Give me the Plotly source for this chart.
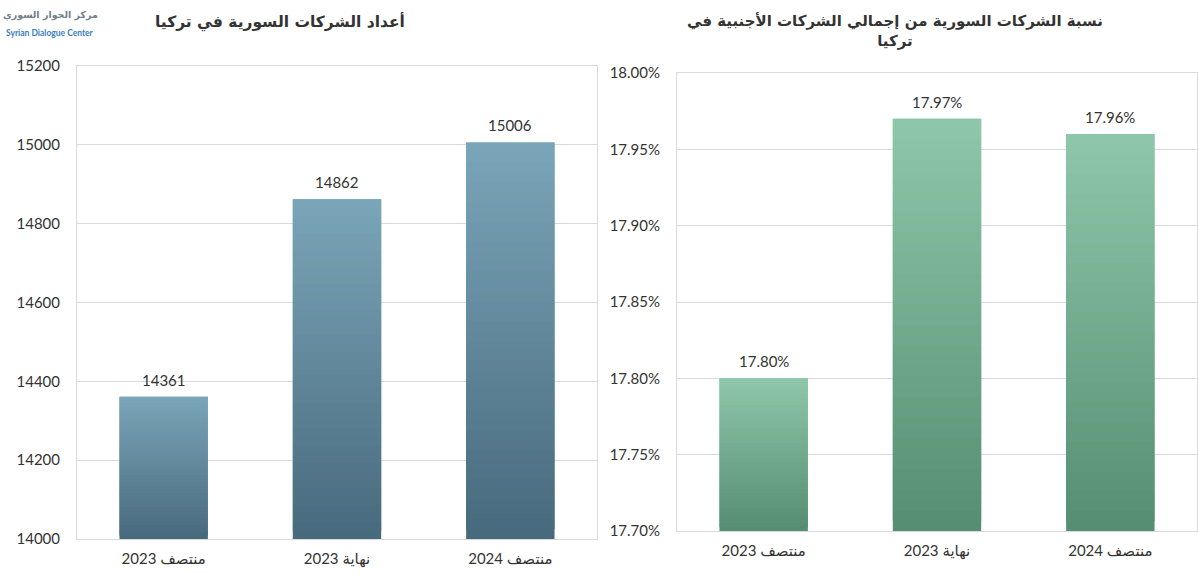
import plotly.graph_objects as go

categories = ["منتصف 2023", "نهاية 2023", "منتصف 2024"]
companies = [14361, 14862, 15006]
share_pct = [17.80, 17.97, 17.96]
left_ticks = [14000, 14200, 14400, 14600, 14800, 15000, 15200]
right_ticks = [17.70, 17.75, 17.80, 17.85, 17.90, 17.95, 18.00]

left_title = "أعداد الشركات السورية في تركيا"
right_title = "نسبة الشركات السورية من إجمالي الشركات الأجنبية في<br>تركيا"

FONT = "Lato, 'DejaVu Sans', sans-serif"
AR = "'DejaVu Sans', sans-serif"
TXT = "#333333"
GRID = "#d9d9d9"


def hex2rgb(h):
    h = h.lstrip("#")
    return tuple(int(h[i:i + 2], 16) for i in (0, 2, 4))


def mix(c1, c2, t):
    a, b = hex2rgb(c1), hex2rgb(c2)
    return "rgb(%d,%d,%d)" % tuple(round(a[i] + (b[i] - a[i]) * t) for i in range(3))


fig = go.Figure()


def gradient_bars(values, lo, top_c, bot_c, xa, ya, n=40):
    for k in range(n):
        t = k / (n - 1)
        bases = [lo + (v - lo) * k / n for v in values]
        heights = [(v - lo) / n * (2.0 if k < n - 1 else 1.0) for v in values]
        fig.add_trace(go.Bar(
            x=categories, y=heights, base=bases,
            marker=dict(color=mix(bot_c, top_c, t), line=dict(width=0)),
            xaxis=xa, yaxis=ya, showlegend=False, hoverinfo="skip",
        ))


gradient_bars(companies, left_ticks[0], "#7aa4b8", "#486a7d", "x", "y")
gradient_bars(share_pct, right_ticks[0], "#8ec6aa", "#558e72", "x2", "y2")

# data labels
for c, v in zip(categories, companies):
    fig.add_annotation(x=c, y=v, xref="x", yref="y", text=str(v), showarrow=False,
                       yanchor="bottom", xanchor="center", yshift=6,
                       font=dict(family=FONT, size=15, color=TXT))
for c, v in zip(categories, share_pct):
    fig.add_annotation(x=c, y=v, xref="x2", yref="y2", text="%.2f%%" % v, showarrow=False,
                       yanchor="bottom", xanchor="center", yshift=6,
                       font=dict(family=FONT, size=15, color=TXT))

W, H = 1198, 574

xcommon = dict(showgrid=False, showline=True, linecolor=GRID, mirror=True,
               tickfont=dict(family=FONT, size=15, color=TXT), ticks="",
               fixedrange=True, automargin=False, ticklabelstandoff=6)
ycommon = dict(showgrid=True, gridcolor=GRID, gridwidth=1, showline=True,
               linecolor=GRID, mirror=True, zeroline=False, ticks="",
               tickfont=dict(family=FONT, size=15, color=TXT), fixedrange=True,
               automargin=False, ticklabelstandoff=13)

fig.update_layout(
    width=W, height=H,
    margin=dict(l=0, r=0, t=0, b=0, autoexpand=False),
    paper_bgcolor="white", plot_bgcolor="rgba(0,0,0,0)",
    barmode="overlay", bargap=0.49,
    showlegend=False,
    xaxis=dict(domain=[77 / W, 597 / W], anchor="y", **xcommon),
    yaxis=dict(domain=[(H - 539) / H, (H - 66) / H], anchor="x",
               range=[left_ticks[0], left_ticks[-1]], tickvals=left_ticks,
               ticktext=[str(v) for v in left_ticks], **ycommon),
    xaxis2=dict(domain=[677 / W, 1197 / W], anchor="y2", **xcommon),
    yaxis2=dict(domain=[(H - 531) / H, (H - 73) / H], anchor="x2",
                range=[right_ticks[0], right_ticks[-1]], tickvals=right_ticks,
                ticktext=["%.2f%%" % v for v in right_ticks], **ycommon),
)

# titles
fig.add_annotation(x=280 / W, y=(H - 22) / H, xref="paper", yref="paper",
                   xanchor="center", yanchor="middle",
                   text="<b>" + left_title + "</b>", showarrow=False,
                   font=dict(family=AR, size=15.5, color=TXT))
fig.add_annotation(x=895 / W, y=(H - 31) / H, xref="paper", yref="paper",
                   xanchor="center", yanchor="middle",
                   text="<b>" + right_title.replace("<br>", "</b><br><b>") + "</b>", showarrow=False,
                   font=dict(family=AR, size=15, color=TXT))

# logo
fig.add_annotation(x=50 / W, y=(H - 15) / H, xref="paper", yref="paper",
                   xanchor="center", yanchor="middle",
                   text="<b>مركز الحوار السوري</b>", showarrow=False,
                   font=dict(family=AR, size=9.5, color="#6f7f8b"))
fig.add_annotation(x=50 / W, y=(H - 33) / H, xref="paper", yref="paper",
                   xanchor="center", yanchor="middle",
                   text="<b>Syrian Dialogue Center</b>", showarrow=False,
                   font=dict(family=FONT, size=8.5, color="#3a7dbf"))

fig.write_html("out.html", config={"displayModeBar": False},
               post_script="document.body.style.margin='0';document.body.style.overflow='hidden';")
